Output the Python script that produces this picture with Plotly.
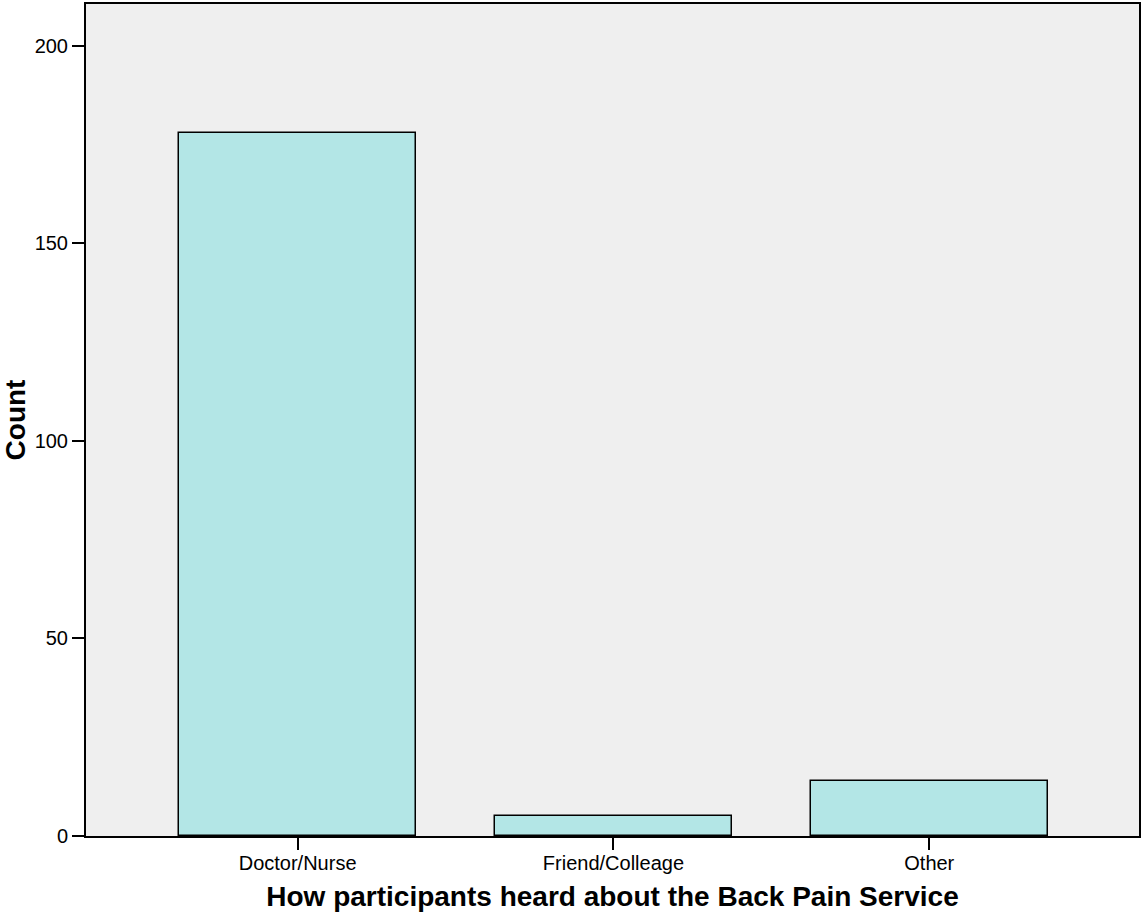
import plotly.graph_objects as go

categories = ["Doctor/Nurse", "Friend/Colleage", "Other"]
counts = [178, 5, 14]
y_ticks = [0, 50, 100, 150, 200]

fig = go.Figure(go.Bar(
    x=categories, y=counts, width=0.75,
    marker=dict(color="#B3E6E6", line=dict(color="black", width=1.5)),
))

fig.update_layout(
    width=1143, height=912,
    margin=dict(l=86, r=2, t=4, b=76),
    paper_bgcolor="white", plot_bgcolor="#EFEFEF",
    font=dict(family="Liberation Sans, Arial, sans-serif", color="black", size=20),
    showlegend=False,
    bargap=0,
)
fig.update_xaxes(
    range=[-0.67, 2.664], showgrid=False, zeroline=False,
    showline=True, linecolor="black", linewidth=2, mirror=True,
    ticks="outside", ticklen=12, tickwidth=2, tickcolor="black",
    tickfont=dict(size=20), ticklabelstandoff=-4,
    title=dict(text="<b>How participants heard about the Back Pain Service</b>", font=dict(size=28), standoff=14),
)
fig.update_yaxes(
    range=[0, 210.6], showgrid=False, zeroline=False,
    tickvals=y_ticks,
    showline=True, linecolor="black", linewidth=2, mirror=True,
    ticks="outside", ticklen=12, tickwidth=2, tickcolor="black",
    tickfont=dict(size=20),
    title=dict(text="<b>Count</b>", font=dict(size=28), standoff=6),
)

fig.write_html("out.html", config={"displayModeBar": False},
               post_script="document.body.style.margin='0';")
